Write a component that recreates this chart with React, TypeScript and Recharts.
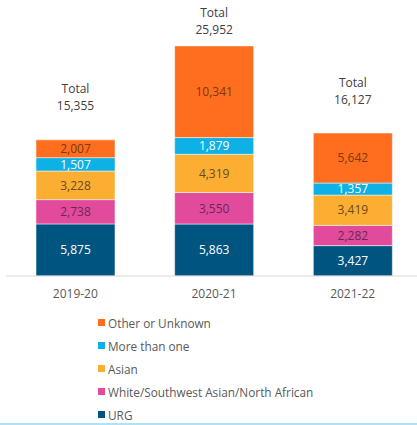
import React from "react";
import { BarChart, Bar, XAxis, YAxis, Legend, LabelList } from "recharts";

const categories = ["2019-20", "2020-21", "2021-22"];
const urg = [5875, 5863, 3427];
const white = [2738, 3550, 2282];
const asian = [3228, 4319, 3419];
const moreThanOne = [1507, 1879, 1357];
const other = [2007, 10341, 5642];
const totals = [15355, 25952, 16127];

const seriesNames = {
  urg: "URG",
  white: "White/Southwest Asian/North African",
  asian: "Asian",
  moreThanOne: "More than one",
  other: "Other or Unknown",
};

const data = categories.map((c, i) => ({
  category: c,
  urg: urg[i],
  white: white[i],
  asian: asian[i],
  moreThanOne: moreThanOne[i],
  other: other[i],
  total: totals[i],
}));

const series = [
  { key: "urg", color: "#005580", labelColor: "#ffffff" },
  { key: "white", color: "#E24B9B", labelColor: "#6a2a50" },
  { key: "asian", color: "#FBAE32", labelColor: "#6b4a1e" },
  { key: "moreThanOne", color: "#0DB1E5", labelColor: "#ffffff" },
  { key: "other", color: "#FF6D1E", labelColor: "#7a3a12" },
];

const FONT = "'Open Sans', sans-serif";
const fmt = (v: number) => v.toLocaleString("en-US");

const TotalLabel = (props: any) => {
  const { x, y, width, index } = props;
  const cx = x + width / 2;
  const valueY = Math.max(y - 34, 29);
  return (
    <g>
      <text x={cx} y={valueY - 17} textAnchor="middle" dominantBaseline="central" fontSize={12} fill="#404040" fontFamily={FONT}>
        Total
      </text>
      <text x={cx} y={valueY} textAnchor="middle" dominantBaseline="central" fontSize={12} fill="#404040" fontFamily={FONT}>
        {fmt(totals[index])}
      </text>
    </g>
  );
};

const LegendContent = () => (
  <div style={{ fontFamily: FONT, fontSize: 11.8, color: "#595959" }}>
    {[...series].reverse().map((s) => (
      <div key={s.key} style={{ display: "flex", alignItems: "center", height: 23 }}>
        <span style={{ display: "inline-block", width: 7, height: 7, background: s.color, marginRight: 3 }} />
        <span>{(seriesNames as any)[s.key]}</span>
      </div>
    ))}
  </div>
);

export default function App() {
  return (
    <div style={{ position: "absolute", left: 0, top: 0, width: 417, height: 425, overflow: "hidden", background: "#fff" }}>
      <BarChart width={422} height={425} data={data} margin={{ top: 10, right: 0, left: 6, bottom: 119 }} barSize={79}>
        <YAxis hide domain={[0, 30000]} />
        <XAxis
          dataKey="category"
          height={30}
          tickLine={false}
          axisLine={{ stroke: "#D9D9D9" }}
          tick={{ fontSize: 12, fill: "#595959", fontFamily: FONT }}
          tickMargin={7}
        />
        {series.map((s, i) => (
          <Bar key={s.key} dataKey={s.key} stackId="a" fill={s.color} stroke="#ffffff" strokeWidth={0.5} isAnimationActive={false} name={(seriesNames as any)[s.key]}>
            <LabelList dataKey={s.key} position="center" formatter={(v: any) => fmt(Number(v))} style={{ fontSize: 12, fill: s.labelColor, fontFamily: FONT }} />
            {i === series.length - 1 && <LabelList dataKey="total" content={<TotalLabel />} />}
          </Bar>
        ))}
        <Legend layout="vertical" align="center" verticalAlign="middle" content={<LegendContent />} wrapperStyle={{ top: 311, left: 98, width: 300 }} />
      </BarChart>
      <div style={{ position: "absolute", left: 0, top: 423, width: 417, height: 2, background: "#AEE3F6" }} />
    </div>
  );
}
